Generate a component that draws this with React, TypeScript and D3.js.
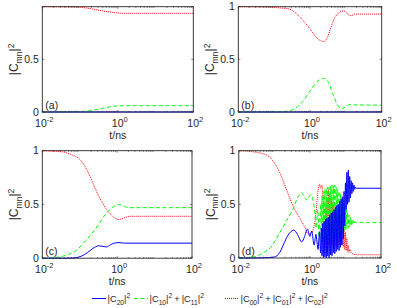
import React from "react";
import * as d3 from "d3";

type Pt = [number, number]; // [log10(t/ns), |C|^2]

// panel (a)
const aBlue: Pt[] = [[-2, 0], [2, 0]];
const aGreen: Pt[] = [[-2, 0], [-1, 0.003], [-0.7, 0.015], [-0.4, 0.035], [-0.1, 0.055], [0.2, 0.06], [2, 0.06]];
const aRed: Pt[] = [[-2, 1], [-1.2, 0.999], [-1, 0.995], [-0.7, 0.98], [-0.4, 0.96], [-0.1, 0.945], [0.2, 0.937], [2, 0.937]];

// panel (b)
const bBlue: Pt[] = [[-2, 0], [2, 0]];
const bGreen: Pt[] = [[-2, 0], [-1, 0.001], [-0.7, 0.005], [-0.5, 0.02], [-0.35, 0.05], [-0.2, 0.1], [0, 0.2], [0.2, 0.29], [0.38, 0.32], [0.5, 0.29], [0.66, 0.15], [0.78, 0.06], [0.86, 0.03], [0.95, 0.04], [1.1, 0.07], [1.2, 0.068], [2, 0.065]];
const bRed: Pt[] = [[-2, 1], [-1.2, 0.998], [-0.9, 0.99], [-0.6, 0.98], [-0.4, 0.94], [-0.2, 0.87], [0, 0.79], [0.2, 0.7], [0.4, 0.67], [0.5, 0.72], [0.6, 0.82], [0.7, 0.9], [0.8, 0.94], [0.92, 0.96], [1.0, 0.95], [1.08, 0.92], [1.15, 0.915], [1.25, 0.93], [2, 0.93]];

// panel (c)
const cBlue: Pt[] = [[-2, 0], [-1.3, 0], [-1.1, 0.005], [-0.95, 0.02], [-0.8, 0.05], [-0.65, 0.09], [-0.5, 0.115], [-0.38, 0.11], [-0.28, 0.105], [-0.18, 0.125], [-0.08, 0.14], [0.05, 0.145], [0.2, 0.14], [2, 0.14]];
const cGreen: Pt[] = [[-2, 0], [-1.7, 0.005], [-1.5, 0.015], [-1.3, 0.035], [-1.1, 0.07], [-0.9, 0.14], [-0.7, 0.22], [-0.5, 0.31], [-0.35, 0.39], [-0.2, 0.45], [-0.05, 0.49], [0.03, 0.5], [0.15, 0.49], [0.3, 0.47], [0.5, 0.47], [2, 0.47]];
const cRed: Pt[] = [[-2, 1], [-1.7, 0.995], [-1.4, 0.985], [-1.2, 0.96], [-1.0, 0.92], [-0.85, 0.85], [-0.7, 0.74], [-0.55, 0.62], [-0.4, 0.52], [-0.28, 0.45], [-0.15, 0.4], [-0.05, 0.37], [0.03, 0.36], [0.12, 0.365], [0.22, 0.38], [0.35, 0.39], [0.6, 0.39], [2, 0.39]];

// panel (d)
const dBlue: Pt[] = [[-2, 0], [-1.5, 0], [-1.2, 0.003], [-1.0, 0.01], [-0.85, 0.05], [-0.75, 0.12], [-0.62, 0.21], [-0.45, 0.26], [-0.35, 0.22], [-0.23, 0.15], [-0.15, 0.2], [-0.07, 0.27], [0.0, 0.2], [0.05, 0.25], [0.12, 0.12], [0.17, 0.22], [0.23, 0.08], [0.27, 0.24], [0.3, 0.05],
  [0.32, 0.28], [0.34, 0.02], [0.36, 0.32], [0.38, 0.0], [0.4, 0.34], [0.42, 0.01], [0.44, 0.36], [0.46, 0.0], [0.48, 0.37], [0.5, 0.02], [0.52, 0.38], [0.54, 0.0], [0.56, 0.4], [0.58, 0.03], [0.6, 0.42], [0.62, 0.02], [0.64, 0.43], [0.66, 0.05], [0.68, 0.45], [0.7, 0.04], [0.72, 0.47], [0.74, 0.06], [0.76, 0.49], [0.78, 0.08], [0.8, 0.5], [0.82, 0.07], [0.84, 0.53], [0.86, 0.1], [0.88, 0.55], [0.9, 0.12], [0.92, 0.57], [0.94, 0.18], [0.96, 0.62], [0.98, 0.3], [1.0, 0.7], [1.02, 0.45], [1.04, 0.8], [1.06, 0.5], [1.08, 0.82], [1.1, 0.52], [1.12, 0.76], [1.14, 0.56], [1.16, 0.72], [1.18, 0.6], [1.2, 0.7], [1.22, 0.62], [1.24, 0.68], [1.26, 0.64], [1.28, 0.66], [1.3, 0.65], [2, 0.65]];
const dGreen: Pt[] = [[-2, 0], [-1.6, 0.01], [-1.3, 0.05], [-1.1, 0.1], [-0.84, 0.24], [-0.6, 0.38], [-0.47, 0.46], [-0.35, 0.56], [-0.23, 0.61], [-0.16, 0.57], [-0.09, 0.54], [0.02, 0.59], [0.1, 0.52], [0.14, 0.42], [0.18, 0.28], [0.22, 0.45], [0.26, 0.2], [0.3, 0.5],
  [0.32, 0.18], [0.34, 0.58], [0.36, 0.15], [0.38, 0.62], [0.4, 0.14], [0.42, 0.64], [0.44, 0.16], [0.46, 0.65], [0.48, 0.15], [0.5, 0.66], [0.52, 0.18], [0.54, 0.66], [0.56, 0.17], [0.58, 0.67], [0.6, 0.2], [0.62, 0.68], [0.64, 0.18], [0.66, 0.67], [0.68, 0.2], [0.7, 0.68], [0.72, 0.16], [0.74, 0.66], [0.76, 0.18], [0.78, 0.64], [0.8, 0.2], [0.82, 0.62], [0.84, 0.22], [0.86, 0.6], [0.88, 0.22], [0.9, 0.57], [0.92, 0.24], [0.94, 0.53], [0.96, 0.25], [0.98, 0.5], [1.0, 0.26], [1.02, 0.46], [1.04, 0.27], [1.06, 0.43], [1.08, 0.28], [1.1, 0.4], [1.12, 0.29], [1.14, 0.38], [1.16, 0.3], [1.18, 0.36], [1.2, 0.31], [1.22, 0.35], [1.24, 0.32], [1.26, 0.34], [1.3, 0.33], [2, 0.33]];
const dRed: Pt[] = [[-2, 1], [-1.6, 0.99], [-1.3, 0.97], [-1.1, 0.93], [-0.95, 0.86], [-0.84, 0.79], [-0.65, 0.63], [-0.47, 0.48], [-0.28, 0.37], [-0.15, 0.29], [-0.04, 0.22], [0.06, 0.24], [0.12, 0.3], [0.18, 0.45], [0.22, 0.6], [0.27, 0.69], [0.3, 0.65], [0.34, 0.68], [0.37, 0.5],
  [0.4, 0.3], [0.42, 0.1], [0.44, 0.48], [0.46, 0.12], [0.48, 0.55], [0.5, 0.1], [0.52, 0.64], [0.54, 0.12], [0.56, 0.6], [0.58, 0.1], [0.6, 0.55], [0.62, 0.12], [0.64, 0.52], [0.66, 0.1], [0.68, 0.5], [0.7, 0.12], [0.72, 0.48], [0.74, 0.1], [0.76, 0.46], [0.78, 0.12], [0.8, 0.44], [0.82, 0.12], [0.84, 0.42], [0.86, 0.13], [0.88, 0.4], [0.9, 0.12], [0.92, 0.36], [0.94, 0.1], [0.96, 0.3], [0.98, 0.08], [1.0, 0.24], [1.02, 0.07], [1.04, 0.18], [1.06, 0.06], [1.08, 0.12], [1.1, 0.05], [1.12, 0.08], [1.16, 0.05], [1.2, 0.04], [1.3, 0.03], [2, 0.03]];

const panelLetters = ["(a)", "(b)", "(c)", "(d)"];
const xTickExps = [-2, 0, 2];
const yTicksFull = [0, 0.5, 1];
const yTicksA = [0, 0.5];
const legendSubs = [["20"], ["10", "11"], ["00", "01", "02"]];

const BLUE = "#0000ff";
const GREEN = "#00ff00";
const RED = "#ff0000";
const AX = "#262626";
const FONT = "Liberation Sans, Arial, Helvetica, sans-serif";

const panels = [
  { id: "a", x0: 42.3, x1: 193.3, y0: 6.7, y1: 112, blue: aBlue, green: aGreen, red: aRed, yt: yTicksA, lab: 109, xl: 139 },
  { id: "b", x0: 238.3, x1: 381.7, y0: 6.7, y1: 112, blue: bBlue, green: bGreen, red: bRed, yt: yTicksFull, lab: 109, xl: 139 },
  { id: "c", x0: 42.3, x1: 192, y0: 150.7, y1: 258.2, blue: cBlue, green: cGreen, red: cRed, yt: yTicksFull, lab: 255, xl: 284.5 },
  { id: "d", x0: 238.8, x1: 381, y0: 150.7, y1: 258, blue: dBlue, green: dGreen, red: dRed, yt: yTicksFull, lab: 255, xl: 284.5 },
];

// |C_sub|^2 as tspans
function cTerm(sub: string, key: string, fs: number, lead: number) {
  const s = fs * 0.72;
  return [
    <tspan key={key + "a"} dx={lead}>|C</tspan>,
    <tspan key={key + "b"} fontSize={s} dy={fs * 0.3}>{sub}</tspan>,
    <tspan key={key + "c"} dy={-fs * 0.3}>|</tspan>,
    <tspan key={key + "d"} fontSize={s} dy={-fs * 0.4}>2</tspan>,
  ];
}

function Panel({ p, i }: { p: typeof panels[number]; i: number }) {
  const x = d3.scaleLog().domain([1e-2, 1e2]).range([p.x0, p.x1]);
  const y = d3.scaleLinear().domain([0, 1]).range([p.y1, p.y0]);
  const line = d3
    .line<Pt>()
    .x((d) => x(Math.pow(10, d[0])))
    .y((d) => y(d[1]))
    .curve(d3.curveMonotoneX);
  const minor: number[] = [];
  for (let k = -2; k < 2; k++) for (let m = 2; m < 10; m++) minor.push(m * Math.pow(10, k));
  const clipId = "clip" + p.id;
  const ym = (p.y0 + p.y1) / 2;
  const xm = (p.x0 + p.x1) / 2;
  return (
    <g>
      <defs>
        <clipPath id={clipId}>
          <rect x={p.x0 - 1} y={p.y0 - 1} width={p.x1 - p.x0 + 2} height={p.y1 - p.y0 + 2} />
        </clipPath>
      </defs>
      <rect x={p.x0} y={p.y0} width={p.x1 - p.x0} height={p.y1 - p.y0} fill="#fff" />
      {/* ticks */}
      <g stroke={AX} strokeWidth={0.6}>
        {minor.map((t) => (
          <g key={t}>
            <line x1={x(t)} x2={x(t)} y1={p.y1} y2={p.y1 - 1.2} />
            <line x1={x(t)} x2={x(t)} y1={p.y0} y2={p.y0 + 1.2} />
          </g>
        ))}
        {xTickExps.map((e) => (
          <g key={e}>
            <line x1={x(Math.pow(10, e))} x2={x(Math.pow(10, e))} y1={p.y1} y2={p.y1 - 2} />
            <line x1={x(Math.pow(10, e))} x2={x(Math.pow(10, e))} y1={p.y0} y2={p.y0 + 2} />
          </g>
        ))}
        {yTicksFull.map((v) => (
          <g key={v}>
            <line x1={p.x0} x2={p.x0 + 2} y1={y(v)} y2={y(v)} />
            <line x1={p.x1} x2={p.x1 - 2} y1={y(v)} y2={y(v)} />
          </g>
        ))}
      </g>
      <g clipPath={`url(#${clipId})`} fill="none" strokeWidth={1}>
        <path d={line(p.red) || ""} stroke={RED} strokeDasharray="1 1" />
        <path d={line(p.green) || ""} stroke={GREEN} strokeDasharray="4 2.5" />
        <path d={line(p.blue) || ""} stroke={BLUE} />
      </g>
      <rect x={p.x0} y={p.y0} width={p.x1 - p.x0} height={p.y1 - p.y0} fill="none" stroke={AX} strokeWidth={0.9} />
      {/* tick labels */}
      <g fontFamily={FONT} fontSize={10.5} fill={AX}>
        {p.yt.map((v) => (
          <text key={v} x={p.x0 - 3.5} y={y(v) + 3.7} textAnchor="end">
            {v}
          </text>
        ))}
        {xTickExps.map((e) => (
          <text key={e} x={x(Math.pow(10, e)) + 2} y={p.y1 + 14.5} textAnchor="middle">
            <tspan>10</tspan>
            <tspan fontSize={7.5} dy={-4.7}>{e}</tspan>
          </text>
        ))}
        <text x={xm} y={p.xl} textAnchor="middle">t/ns</text>
        <text x={p.x0 + 3} y={p.lab}>{panelLetters[i]}</text>
        <text transform={`translate(${p.x0 - 24},${ym}) rotate(-90)`} textAnchor="middle" fontSize={12}>
          <tspan>|C</tspan>
          <tspan fontSize={8.6} dy={3.5}>mn</tspan>
          <tspan dy={-3.5}>|</tspan>
          <tspan fontSize={8.6} dy={-4.8}>2</tspan>
        </text>
      </g>
    </g>
  );
}

export default function App() {
  const legendColors = [BLUE, GREEN, RED];
  const legendDash = ["none", "4 2.5", "1 1"];
  const legendX = [92, 134, 225];
  const ly = 298.5;
  const fs = 9.3;
  return (
    <svg width={397} height={308} style={{ display: "block", position: "absolute", left: 0, top: 0 }}>
      <rect width={397} height={308} fill="#fff" />
      {panels.map((p, i) => (
        <Panel key={p.id} p={p} i={i} />
      ))}
      <g fontFamily={FONT} fontSize={fs} fill={AX}>
        {legendSubs.map((subs, j) => (
          <g key={j}>
            <line x1={legendX[j]} x2={legendX[j] + 14} y1={ly} y2={ly} stroke={legendColors[j]} strokeWidth={1} strokeDasharray={legendDash[j]} />
            <text x={legendX[j] + 15.5} y={ly + 3.4}>
              {subs.map((s, k) => [
                k > 0 ? <tspan key={"p" + k} dx={2} dy={fs * 0.4}>+</tspan> : null,
                ...cTerm(s, j + "-" + k, fs, k > 0 ? 2 : 0),
              ])}
            </text>
          </g>
        ))}
      </g>
    </svg>
  );
}
